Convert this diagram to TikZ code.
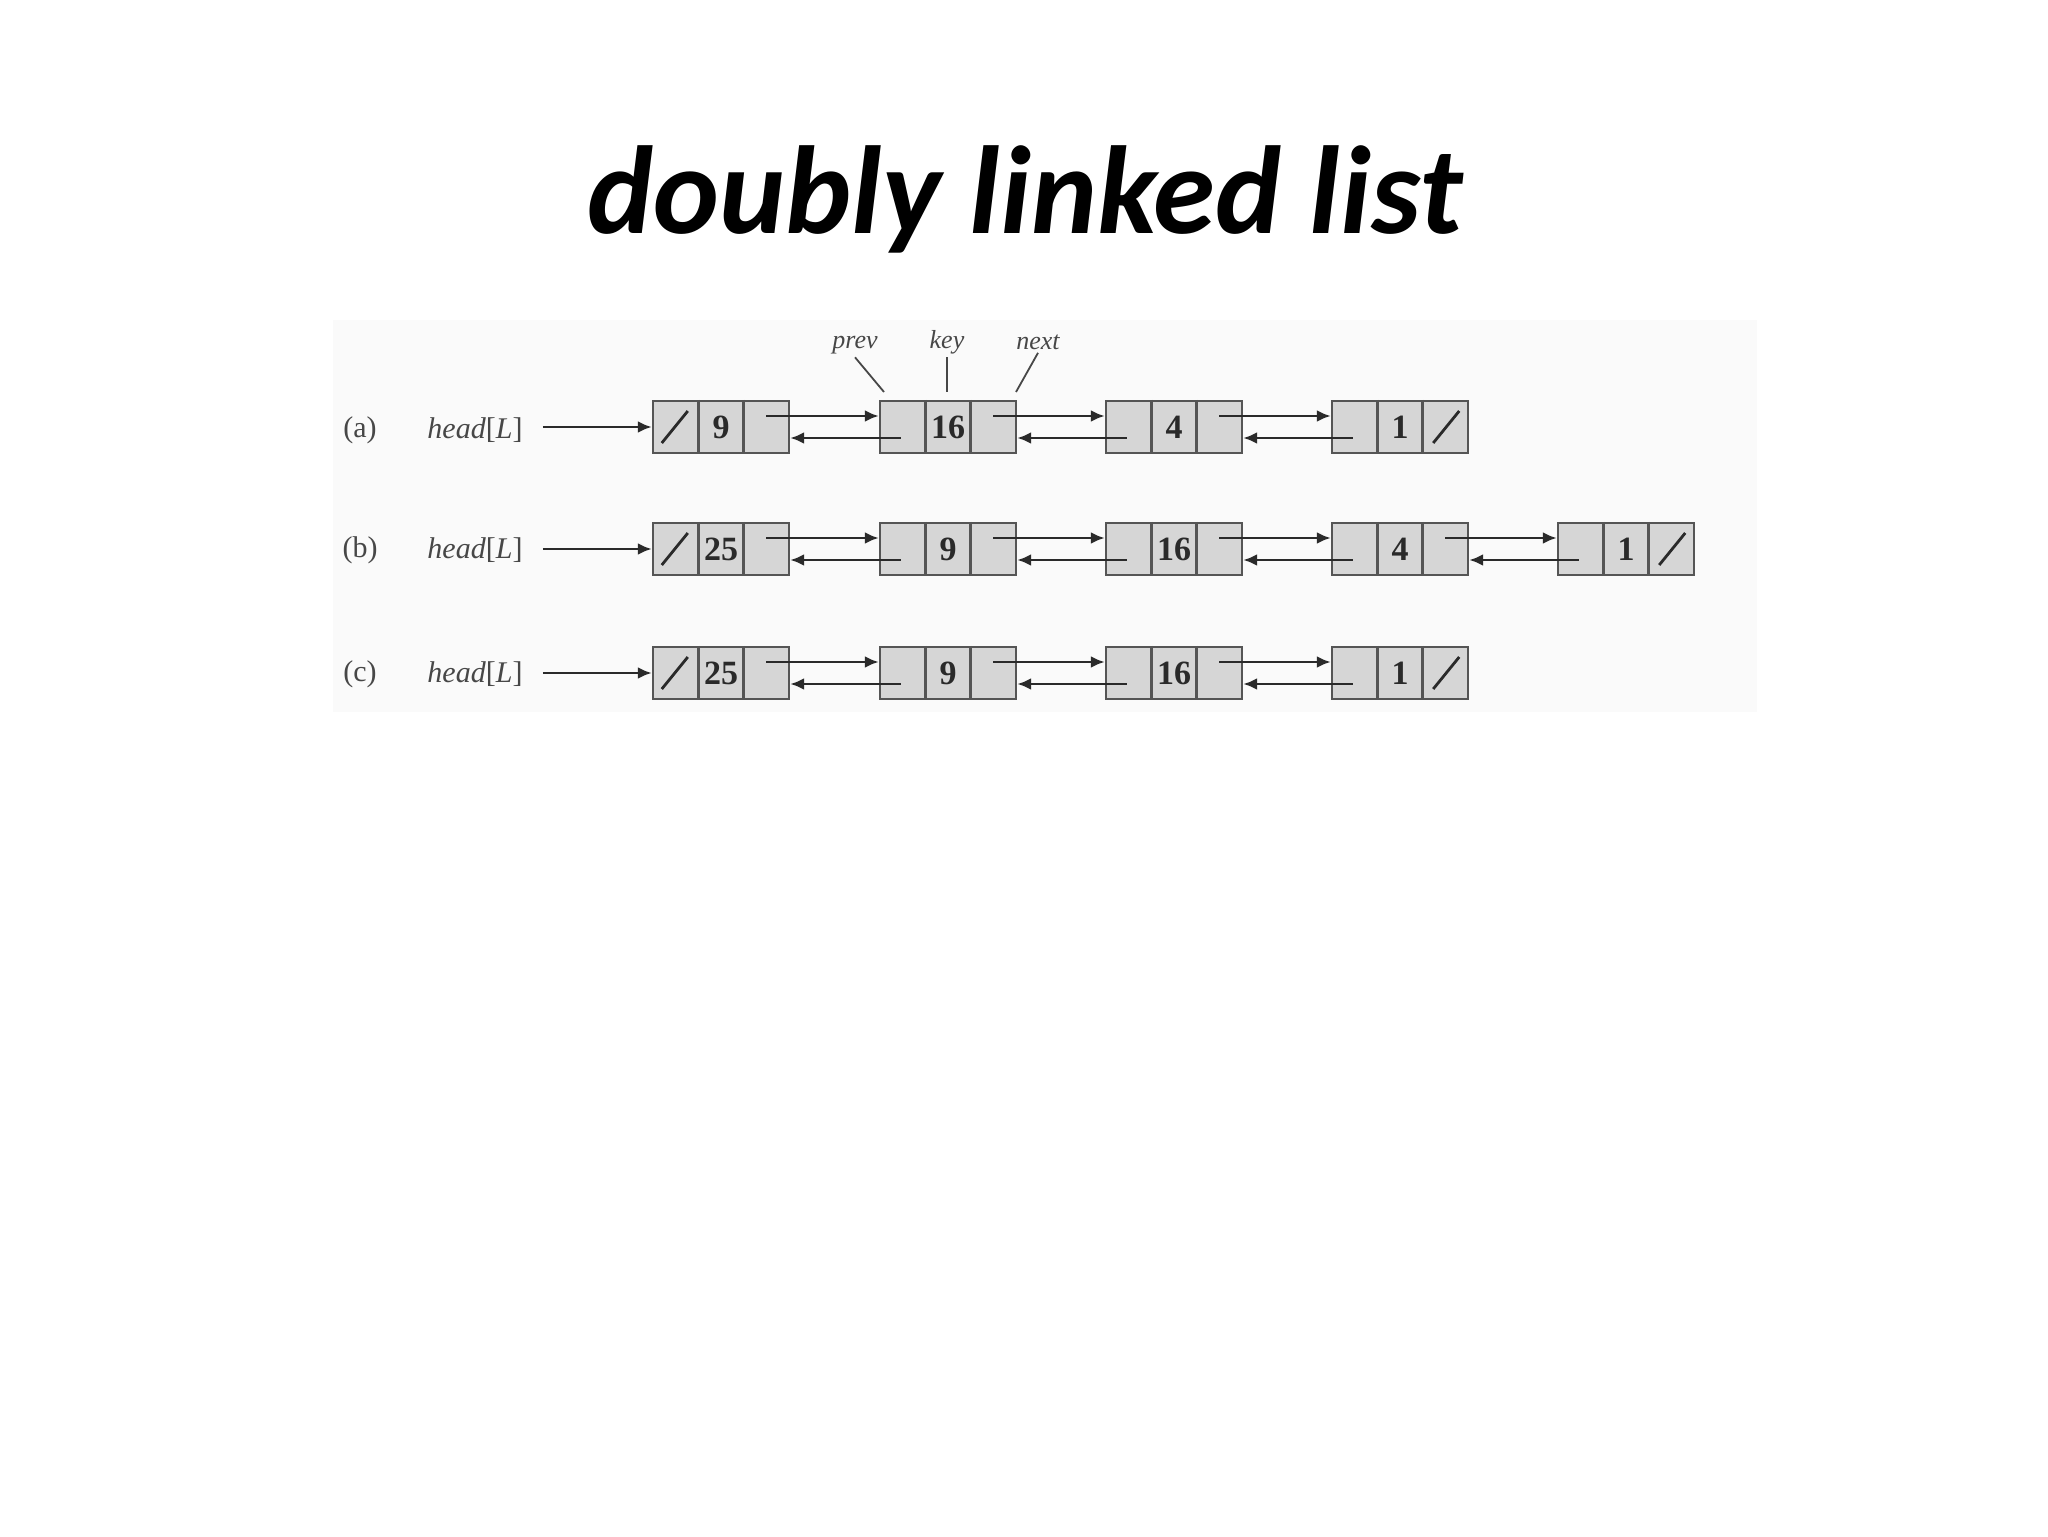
\documentclass[tikz,border=0pt]{standalone}
\usepackage{fontspec}
\setmainfont{Liberation Serif}
\newfontfamily\titlefont{Carlito}
\usetikzlibrary{arrows.meta,calc}
\definecolor{cellfill}{HTML}{D6D6D6}
\definecolor{celldraw}{HTML}{555555}
\definecolor{ink}{HTML}{2A2A2A}
\definecolor{scanbg}{HTML}{FAFAFA}
\tikzset{
  lnode/.style={draw=celldraw, fill=cellfill, line width=1.2pt, minimum width=68pt, minimum height=26pt, inner sep=0pt, font=\fontsize{17}{17}\selectfont\bfseries, text=ink},
  divider/.style={draw=celldraw, line width=1.2pt},
  nilslash/.style={draw=ink, line width=1.4pt},
  ptr/.style={draw=ink, line width=1.4pt, -{Latex[length=7pt,width=6pt]}},
  rowlabel/.style={font=\fontsize{15}{15}\selectfont, text=black!72, inner sep=0pt},
  fieldlabel/.style={font=\fontsize{13}{13}\selectfont\itshape, text=black!72, inner sep=1.5pt},
  fieldline/.style={draw=black!72, line width=0.9pt},
  titletext/.style={font=\titlefont\bfseries\itshape\fontsize{62.6}{70}\selectfont, text=black, inner sep=0pt, anchor=base},
}
\newcommand{\mklistnode}[4]{%
  \node[lnode] (#1) at (#2,#3) {#4};
  \draw[divider] ([xshift=-11.33pt]#1.north) -- ([xshift=-11.33pt]#1.south);
  \draw[divider] ([xshift=11.33pt]#1.north) -- ([xshift=11.33pt]#1.south);
}
\newcommand{\nilleft}[1]{\draw[nilslash] ([shift={(5pt,-8pt)}]#1.west) -- ([shift={(18pt,8pt)}]#1.west);}
\newcommand{\nilright}[1]{\draw[nilslash] ([shift={(-18pt,-8pt)}]#1.east) -- ([shift={(-5pt,8pt)}]#1.east);}
\newcommand{\dlink}[2]{%
  \draw[ptr] ([shift={(-12pt,5.5pt)}]#1.east) -- ([yshift=5.5pt]#2.west);
  \draw[ptr] ([shift={(11pt,-5.5pt)}]#2.west) -- ([yshift=-5.5pt]#1.east);
}
\newcommand{\headptr}[2]{\draw[ptr] ([xshift=10pt]#1.east |- #2.west) -- (#2.west);}
\begin{document}
\begin{tikzpicture}[x=0.5pt,y=-0.5pt]
\useasboundingbox (0,0) rectangle (2048,1536);
\fill[white] (0,0) rectangle (2048,1536);
\fill[scanbg] (333,320) rectangle (1757,712);

\node[titletext] (title) at (1025,233) {doubly linked list};

% row (a)
\node[rowlabel] (ra) at (360,430) {(a)};
\node[rowlabel] (ha) at (475,430) {\textit{head}[\textit{L}]};
\mklistnode{a1}{721}{427}{9}
\mklistnode{a2}{948}{427}{16}
\mklistnode{a3}{1174}{427}{4}
\mklistnode{a4}{1400}{427}{1}
\nilleft{a1}
\nilright{a4}
\headptr{ha}{a1}
\dlink{a1}{a2}
\dlink{a2}{a3}
\dlink{a3}{a4}

% field labels
\node[fieldlabel] (fprev) at (855,345) {prev};
\node[fieldlabel] (fkey) at (947,342) {key};
\node[fieldlabel] (fnext) at (1038,342) {next};
\coordinate (fprevend) at (884,392);
\coordinate (fkeyend) at (947,392);
\coordinate (fnextend) at (1016,392);
\draw[fieldline] (fprev.south) -- (fprevend);
\draw[fieldline] (fkey.south) -- (fkeyend);
\draw[fieldline] (fnext.south) -- (fnextend);

% row (b)
\node[rowlabel] (rb) at (360,550) {(b)};
\node[rowlabel] (hb) at (475,550) {\textit{head}[\textit{L}]};
\mklistnode{b1}{721}{549}{25}
\mklistnode{b2}{948}{549}{9}
\mklistnode{b3}{1174}{549}{16}
\mklistnode{b4}{1400}{549}{4}
\mklistnode{b5}{1626}{549}{1}
\nilleft{b1}
\nilright{b5}
\headptr{hb}{b1}
\dlink{b1}{b2}
\dlink{b2}{b3}
\dlink{b3}{b4}
\dlink{b4}{b5}

% row (c)
\node[rowlabel] (rc) at (360,674) {(c)};
\node[rowlabel] (hc) at (475,674) {\textit{head}[\textit{L}]};
\mklistnode{c1}{721}{673}{25}
\mklistnode{c2}{948}{673}{9}
\mklistnode{c3}{1174}{673}{16}
\mklistnode{c4}{1400}{673}{1}
\nilleft{c1}
\nilright{c4}
\headptr{hc}{c1}
\dlink{c1}{c2}
\dlink{c2}{c3}
\dlink{c3}{c4}
\end{tikzpicture}
\end{document}
